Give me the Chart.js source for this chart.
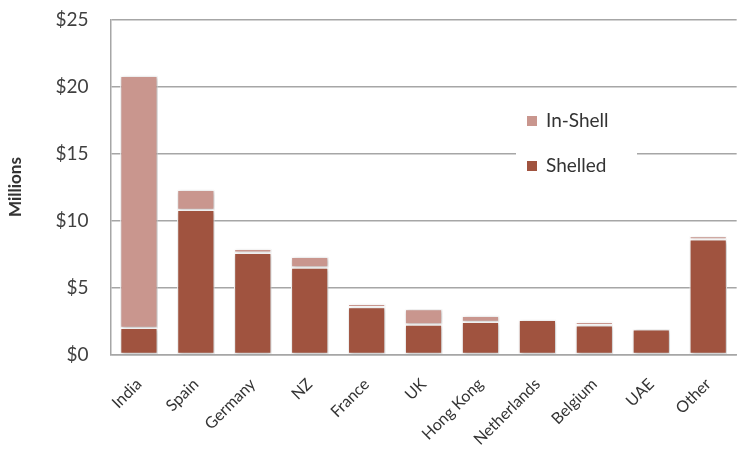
<!DOCTYPE html>
<html>
<head>
<meta charset="utf-8">
<script src="https://cdn.jsdelivr.net/npm/chart.js@4/dist/chart.umd.min.js"></script>
<style>
  html, body { margin: 0; padding: 0; background: #fff; overflow: hidden; }
  #wrap { width: 742px; height: 461px; position: relative; overflow: hidden; }
  #c { position: absolute; left: 0; top: -14px; }
</style>
</head>
<body>
<div id="wrap"><canvas id="c" width="742" height="483"></canvas></div>
<script>
const categories = ["India", "Spain", "Germany", "NZ", "France", "UK", "Hong Kong", "Netherlands", "Belgium", "UAE", "Other"];
const shelled = [2.0, 10.8, 7.6, 6.5, 3.55, 2.25, 2.45, 2.6, 2.2, 1.9, 8.6];
const inShell = [18.8, 1.5, 0.3, 0.8, 0.25, 1.15, 0.45, 0.0, 0.25, 0.0, 0.25];
const yTicks = [0, 5, 10, 15, 20, 25];

const SHELLED_COLOR = "#A0533F";
const INSHELL_COLOR = "#C9968E";

const shadowPlugin = {
  id: "barShadow",
  beforeDatasetsDraw(chart) {
    const ctx = chart.ctx;
    ctx.save();
    ctx.shadowColor = "rgba(0,0,0,0.28)";
    ctx.shadowBlur = 4;
    ctx.shadowOffsetX = 1;
    ctx.shadowOffsetY = 1;
  },
  afterDatasetsDraw(chart) {
    chart.ctx.restore();
  }
};

const insideLegend = {
  id: "insideLegend",
  afterDraw(chart) {
    const ctx = chart.ctx;
    const off = 14;
    ctx.save();
    ctx.fillStyle = "#ffffff";
    ctx.fillRect(516, 98 + off, 121, 84);
    const items = [chart.data.datasets[1], chart.data.datasets[0]];
    const ys = [121 + off, 166 + off];
    ctx.font = "19px Lato, 'Open Sans', sans-serif";
    ctx.textBaseline = "middle";
    items.forEach((ds, i) => {
      ctx.fillStyle = ds.backgroundColor;
      ctx.fillRect(527, ys[i] - 5, 10, 10);
      ctx.fillStyle = "#333333";
      ctx.fillText(ds.label, 546, ys[i]);
    });
    ctx.restore();
  }
};

new Chart(document.getElementById("c"), {
  type: "bar",
  data: {
    labels: categories,
    datasets: [
      { label: "Shelled", data: shelled, backgroundColor: SHELLED_COLOR, borderColor: "#ffffff", borderWidth: 1.2, borderSkipped: false },
      { label: "In-Shell", data: inShell, backgroundColor: INSHELL_COLOR, borderColor: "#ffffff", borderWidth: 1.2, borderSkipped: false }
    ]
  },
  options: {
    responsive: false,
    animation: false,
    layout: { padding: { top: 0, right: 5, left: 5, bottom: 0 } },
    datasets: { bar: { barPercentage: 0.66, categoryPercentage: 1.0 } },
    plugins: {
      legend: { display: false },
      tooltip: { enabled: false },
      title: { display: false }
    },
    scales: {
      x: {
        stacked: true,
        grid: { display: false, drawTicks: false },
        border: { color: "#A6A6A6", width: 1.5 },
        ticks: {
          minRotation: 45, maxRotation: 45, padding: 20,
          color: "#333333",
          font: { family: "Lato, 'Open Sans', sans-serif", size: 16 }
        }
      },
      y: {
        stacked: true,
        min: 0, max: 25,
        afterBuildTicks(axis) { axis.ticks = yTicks.map(v => ({ value: v })); },
        grid: { color: "#A6A6A6", lineWidth: 1.5, drawTicks: false },
        border: { color: "#A6A6A6", width: 1.5 },
        ticks: {
          padding: 22,
          color: "#404040",
          font: { family: "Lato, 'Open Sans', sans-serif", size: 19 },
          callback: v => "$" + v
        },
        title: {
          display: true, text: "Millions",
          color: "#333333",
          font: { family: "Lato, 'Open Sans', sans-serif", size: 17, weight: "bold" },
          padding: { top: 0, bottom: 8 }
        }
      }
    }
  },
  plugins: [shadowPlugin, insideLegend]
});
</script>
</body>
</html>
